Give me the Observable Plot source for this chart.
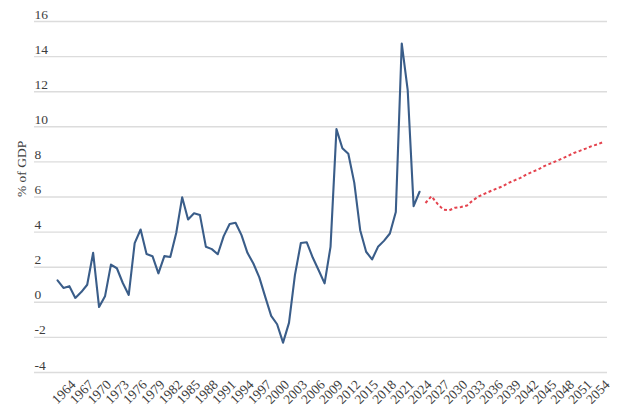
<!DOCTYPE html>
<html>
<head>
<meta charset="utf-8">
<script src="https://cdn.jsdelivr.net/npm/d3@7"></script>
<script src="https://cdn.jsdelivr.net/npm/@observablehq/plot@0.6"></script>
<style>
  html, body { margin: 0; padding: 0; background: #fff; }
  svg { display: block; }
</style>
</head>
<body>
<div id="chart"></div>
<script>
const histYears = [1962,1963,1964,1965,1966,1967,1968,1969,1970,1971,1972,1973,1974,1975,1976,1977,1978,1979,1980,1981,1982,1983,1984,1985,1986,1987,1988,1989,1990,1991,1992,1993,1994,1995,1996,1997,1998,1999,2000,2001,2002,2003,2004,2005,2006,2007,2008,2009,2010,2011,2012,2013,2014,2015,2016,2017,2018,2019,2020,2021,2022,2023];
const histValues = [1.25,0.82,0.92,0.25,0.58,1.0,2.82,-0.27,0.34,2.15,1.94,1.1,0.42,3.37,4.15,2.75,2.63,1.65,2.63,2.58,3.95,5.98,4.72,5.07,4.97,3.16,3.03,2.74,3.77,4.46,4.53,3.83,2.82,2.21,1.42,0.31,-0.77,-1.25,-2.3,-1.17,1.55,3.38,3.42,2.55,1.83,1.08,3.16,9.87,8.78,8.46,6.82,4.11,2.88,2.44,3.16,3.5,3.92,5.15,14.75,12.11,5.48,6.3];
const projYears = [2024,2025,2026,2027,2028,2029,2030,2031,2032,2033,2034,2035,2036,2037,2038,2039,2040,2041,2042,2043,2044,2045,2046,2047,2048,2049,2050,2051,2052,2053,2054];
const projValues = [5.66,6.04,5.62,5.28,5.24,5.39,5.43,5.52,5.81,6.04,6.19,6.34,6.48,6.61,6.8,6.95,7.09,7.28,7.43,7.57,7.76,7.9,8.04,8.19,8.34,8.51,8.63,8.76,8.9,9.0,9.14];
const xTicks = [1964,1967,1970,1973,1976,1979,1982,1985,1988,1991,1994,1997,2000,2003,2006,2009,2012,2015,2018,2021,2024,2027,2030,2033,2036,2039,2042,2045,2048,2051,2054];
const yTicks = [-4,-2,0,2,4,6,8,10,12,14,16];
const yLabel = "% of GDP";

const hist = histYears.map((year, i) => ({year, value: histValues[i]}));
const proj = projYears.map((year, i) => ({year, value: projValues[i]}));

const chart = Plot.plot({
  width: 630,
  height: 412,
  marginLeft: 34,
  marginRight: 23,
  marginTop: 21,
  marginBottom: 40,
  style: {fontFamily: "'Liberation Serif', serif", fontSize: "13px", color: "#444", background: "#fff"},
  x: {domain: [1958.12, 2054.67], axis: null},
  y: {domain: [-4, 16], axis: null},
  marks: [
    Plot.gridY(yTicks, {stroke: "#dcdcdc", strokeOpacity: 1, strokeWidth: 1.4}),
    Plot.axisY(yTicks, {anchor: "left", tickSize: 0, tickPadding: 0, textAnchor: "start", lineAnchor: "bottom", dy: -3, label: null, fill: "#3d3d3d", fontSize: 13.5, tickFormat: d => String(d)}),
    Plot.axisX(xTicks, {anchor: "bottom", tickSize: 0, tickPadding: 10, tickRotate: -45, dx: 4, tickFormat: d => String(d), label: null, fill: "#3d3d3d", fontSize: 13.5}),
    Plot.text([yLabel], {frameAnchor: "left", rotate: -90, dx: -13, fill: "#3d3d3d", fontSize: 13.5}),
    Plot.line(hist, {x: "year", y: "value", stroke: "#3a5d89", strokeWidth: 2.1}),
    Plot.line(proj, {x: "year", y: "value", stroke: "#e4434e", strokeWidth: 2, strokeDasharray: "3,2.5", strokeLinecap: "butt"})
  ]
});
document.getElementById("chart").appendChild(chart);
</script>
</body>
</html>
